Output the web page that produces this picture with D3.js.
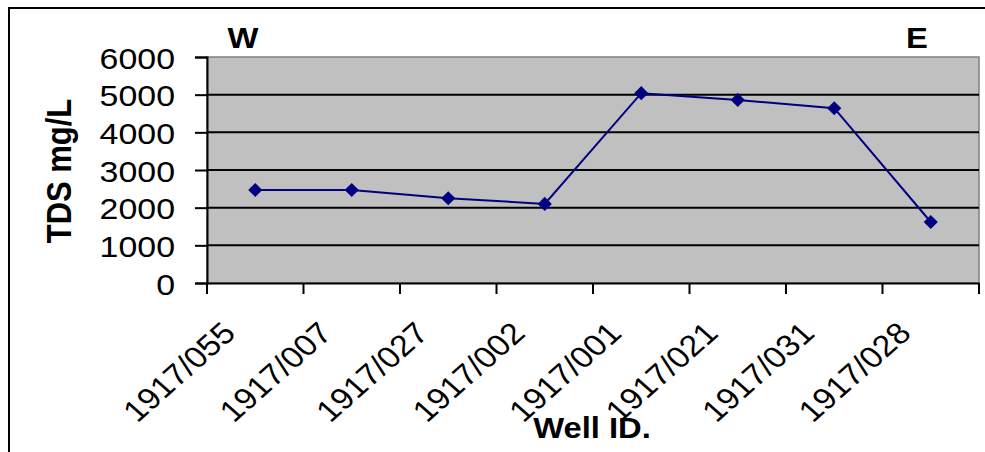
<!DOCTYPE html>
<html>
<head>
<meta charset="utf-8">
<script src="https://cdn.jsdelivr.net/npm/d3@7"></script>
<style>
	body { margin: 0; background: #fff; }
	text { font-family: "Liberation Sans", Arial, sans-serif; fill: #000; }
</style>
</head>
<body>
<svg class="chart" width="985" height="452"></svg>
<script>
const categories = ["1917/055", "1917/007", "1917/027", "1917/002", "1917/001", "1917/021", "1917/031", "1917/028"];
const tdsValues = [2470, 2470, 2250, 2100, 5040, 4860, 4640, 1620];
const yTicks = [0, 1000, 2000, 3000, 4000, 5000, 6000];
const sideLabels = ["W", "E"];

var drawChart = () => {
	var margin = { top: 57, right: 6, bottom: 169, left: 207 },
		width = 985,
		height = 452;
	// the picture is a bit wider than tall, text gets stretched the same way
	var SX = 1.13;

	var svg = d3.select(".chart");

	// outer chart border (runs off the right and bottom edge)
	svg
		.append("rect")
		.attr("x", 9)
		.attr("y", 8)
		.attr("width", width)
		.attr("height", height)
		.attr("fill", "none")
		.attr("stroke", "#000")
		.attr("stroke-width", 2);

	let x = d3
		.scaleBand()
		.domain(categories)
		.range([margin.left, width - margin.right]);

	let y = d3
		.scaleLinear()
		.domain([0, 6000])
		.range([height - margin.bottom, margin.top]);

	// plot area
	svg
		.append("rect")
		.attr("x", margin.left)
		.attr("y", margin.top)
		.attr("width", width - margin.right - margin.left)
		.attr("height", height - margin.bottom - margin.top)
		.attr("fill", "#c0c0c0")
		.attr("stroke", "#808080")
		.attr("stroke-width", 1.5);

	// gridlines
	svg
		.append("g")
		.selectAll("line")
		.data(yTicks.filter((d) => d > 0 && d < 6000))
		.join("line")
		.attr("x1", margin.left)
		.attr("x2", width - margin.right)
		.attr("y1", (d) => y(d))
		.attr("y2", (d) => y(d))
		.attr("stroke", "#000")
		.attr("stroke-width", 2);

	let yAxis = (g) =>
		g
			.attr("transform", `translate(${margin.left},0)`)
			.call(
				d3
					.axisLeft(y)
					.tickValues(yTicks)
					.tickFormat(d3.format("d"))
					.tickSizeOuter(0)
					.tickSize(12)
			)
			.call((g) => g.select(".domain").attr("stroke-width", 2))
			.call((g) => g.selectAll(".tick line").attr("stroke-width", 2))
			.call((g) =>
				g
					.selectAll(".tick text")
					.attr("x", null)
					.attr("dy", null)
					.attr("transform", `translate(-32,11) scale(${SX},1)`)
					.attr("font-size", 30)
					.attr("font-family", "Liberation Sans, Arial, sans-serif")
			);

	let xAxis = (g) =>
		g
			.attr("transform", `translate(0,${height - margin.bottom})`)
			.call(d3.axisBottom(x).tickValues([]).tickSizeOuter(0))
			.call((g) => g.select(".domain").attr("stroke-width", 2));

	svg.append("g").call(xAxis);
	svg.append("g").call(yAxis);

	// tick marks between categories
	svg
		.append("g")
		.selectAll("line")
		.data(categories.concat(["end"]))
		.join("line")
		.attr("x1", (d, i) => margin.left + i * x.step())
		.attr("x2", (d, i) => margin.left + i * x.step())
		.attr("y1", y(0))
		.attr("y2", y(0) + 11)
		.attr("stroke", "#000")
		.attr("stroke-width", 2);

	// rotated category labels
	svg
		.append("g")
		.selectAll("text")
		.data(categories)
		.join("text")
		.attr("text-anchor", "end")
		.attr("font-size", 30)
		.attr("transform", (d) => `translate(${x(d) + x.bandwidth() / 2 - 18},335) scale(${SX},1) rotate(-45)`)
		.text((d) => d);

	let line = d3
		.line()
		.x((d, i) => x(categories[i]) + x.bandwidth() / 2)
		.y((d) => y(d));

	svg
		.append("path")
		.attr("d", line(tdsValues))
		.attr("fill", "none")
		.attr("stroke", "#000080")
		.attr("stroke-width", 2);

	svg
		.append("g")
		.selectAll("path")
		.data(tdsValues)
		.join("path")
		.attr("d", d3.symbol(d3.symbolSquare, 100))
		.attr("transform", (d, i) => `translate(${x(categories[i]) + x.bandwidth() / 2},${y(d)}) rotate(45)`)
		.attr("fill", "#000080");

	// axis titles
	svg
		.append("text")
		.attr("text-anchor", "middle")
		.attr("font-size", 31)
		.attr("font-weight", "bold")
		.attr("transform", `translate(71,171) scale(${SX},1) rotate(-90)`)
		.text("TDS mg/L");

	svg
		.append("text")
		.attr("text-anchor", "middle")
		.attr("font-size", 29)
		.attr("font-weight", "bold")
		.attr("transform", `translate(592,438) scale(${SX},1)`)
		.text("Well ID.");

	// west / east markers
	svg
		.append("g")
		.selectAll("text")
		.data(sideLabels)
		.join("text")
		.attr("text-anchor", "middle")
		.attr("font-size", 29)
		.attr("font-weight", "bold")
		.attr("transform", (d, i) => `translate(${i === 0 ? 243 : 917},48) scale(${SX},1)`)
		.text((d) => d);
};

drawChart();
</script>
</body>
</html>
